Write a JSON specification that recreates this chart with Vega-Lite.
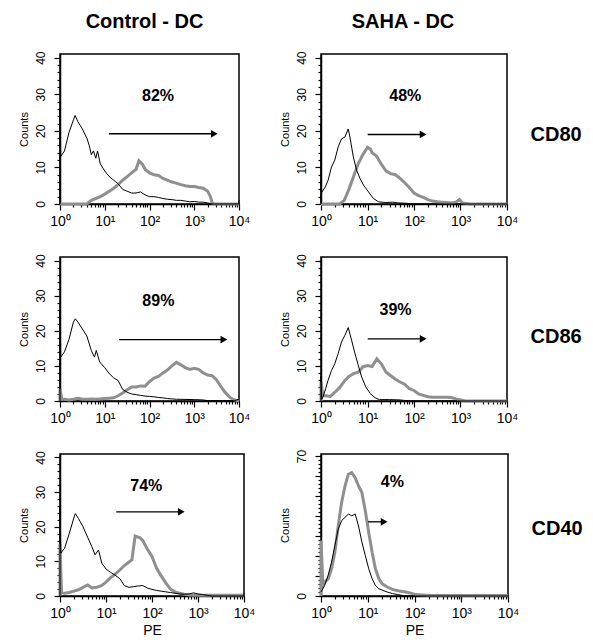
{
"$schema": "https://vega.github.io/schema/vega-lite/v6.json",
"padding": {"left": 17, "top": 11, "right": 5, "bottom": 5},
"datasets": {
"curves": [
{"panel":"c80","stain":"isotype","pe":1,"count":0},{"panel":"c80","stain":"isotype","pe":1,"count":26},{"panel":"c80","stain":"isotype","pe":1.04,"count":13},{"panel":"c80","stain":"isotype","pe":1.259,"count":14.5},{"panel":"c80","stain":"isotype","pe":1.585,"count":19.5},{"panel":"c80","stain":"isotype","pe":1.995,"count":23},{"panel":"c80","stain":"isotype","pe":2.17,"count":24.2},{"panel":"c80","stain":"isotype","pe":2.512,"count":22.5},{"panel":"c80","stain":"isotype","pe":3.162,"count":20.5},{"panel":"c80","stain":"isotype","pe":3.981,"count":18},{"panel":"c80","stain":"isotype","pe":4.5,"count":16},{"panel":"c80","stain":"isotype","pe":5.012,"count":13.5},{"panel":"c80","stain":"isotype","pe":5.6,"count":14.5},{"panel":"c80","stain":"isotype","pe":6.31,"count":12.5},{"panel":"c80","stain":"isotype","pe":6.9,"count":14.5},{"panel":"c80","stain":"isotype","pe":7.943,"count":11},{"panel":"c80","stain":"isotype","pe":10,"count":9},{"panel":"c80","stain":"isotype","pe":12.59,"count":7.5},{"panel":"c80","stain":"isotype","pe":15.85,"count":6.5},{"panel":"c80","stain":"isotype","pe":19.95,"count":5.5},{"panel":"c80","stain":"isotype","pe":25.12,"count":4},{"panel":"c80","stain":"isotype","pe":31.62,"count":3.5},{"panel":"c80","stain":"isotype","pe":39.81,"count":3},{"panel":"c80","stain":"isotype","pe":50.12,"count":3},{"panel":"c80","stain":"isotype","pe":63.1,"count":3.3},{"panel":"c80","stain":"isotype","pe":79.43,"count":2.5},{"panel":"c80","stain":"isotype","pe":100,"count":2},{"panel":"c80","stain":"isotype","pe":125.9,"count":2},{"panel":"c80","stain":"isotype","pe":158.5,"count":1.8},{"panel":"c80","stain":"isotype","pe":199.5,"count":1.5},{"panel":"c80","stain":"isotype","pe":251.2,"count":1.3},{"panel":"c80","stain":"isotype","pe":316.2,"count":1.2},{"panel":"c80","stain":"isotype","pe":398.1,"count":1},{"panel":"c80","stain":"isotype","pe":501.2,"count":1},{"panel":"c80","stain":"isotype","pe":631,"count":0.8},{"panel":"c80","stain":"isotype","pe":794.3,"count":0.6},{"panel":"c80","stain":"isotype","pe":1000,"count":0.7},{"panel":"c80","stain":"isotype","pe":1259,"count":0.5},{"panel":"c80","stain":"isotype","pe":1585,"count":0.5},{"panel":"c80","stain":"isotype","pe":1995,"count":0.3},{"panel":"c80","stain":"isotype","pe":2512,"count":0},{"panel":"c80","stain":"isotype","pe":9800,"count":0},{"panel":"c80","stain":"isotype","pe":10000,"count":1},
{"panel":"c80","stain":"marker","pe":1,"count":0},{"panel":"c80","stain":"marker","pe":3.981,"count":0},{"panel":"c80","stain":"marker","pe":5.012,"count":1},{"panel":"c80","stain":"marker","pe":6.31,"count":1.5},{"panel":"c80","stain":"marker","pe":7.943,"count":2},{"panel":"c80","stain":"marker","pe":10,"count":2.7},{"panel":"c80","stain":"marker","pe":12.59,"count":3.5},{"panel":"c80","stain":"marker","pe":15.85,"count":4.3},{"panel":"c80","stain":"marker","pe":19.95,"count":5.3},{"panel":"c80","stain":"marker","pe":25.12,"count":6.5},{"panel":"c80","stain":"marker","pe":31.62,"count":7.5},{"panel":"c80","stain":"marker","pe":39.81,"count":8.5},{"panel":"c80","stain":"marker","pe":50.12,"count":9.5},{"panel":"c80","stain":"marker","pe":58,"count":11.8},{"panel":"c80","stain":"marker","pe":70,"count":10.8},{"panel":"c80","stain":"marker","pe":79.43,"count":9.5},{"panel":"c80","stain":"marker","pe":100,"count":8.5},{"panel":"c80","stain":"marker","pe":125.9,"count":8},{"panel":"c80","stain":"marker","pe":158.5,"count":7.8},{"panel":"c80","stain":"marker","pe":199.5,"count":7},{"panel":"c80","stain":"marker","pe":251.2,"count":6.5},{"panel":"c80","stain":"marker","pe":316.2,"count":6},{"panel":"c80","stain":"marker","pe":398.1,"count":5.7},{"panel":"c80","stain":"marker","pe":501.2,"count":5.3},{"panel":"c80","stain":"marker","pe":631,"count":5},{"panel":"c80","stain":"marker","pe":794.3,"count":4.8},{"panel":"c80","stain":"marker","pe":1000,"count":4.8},{"panel":"c80","stain":"marker","pe":1259,"count":4.5},{"panel":"c80","stain":"marker","pe":1585,"count":4.3},{"panel":"c80","stain":"marker","pe":1995,"count":3.5},{"panel":"c80","stain":"marker","pe":2300,"count":2},{"panel":"c80","stain":"marker","pe":2512,"count":0.3},{"panel":"c80","stain":"marker","pe":2800,"count":0},{"panel":"c80","stain":"marker","pe":10000,"count":0},
{"panel":"s80","stain":"isotype","pe":1,"count":0},{"panel":"s80","stain":"isotype","pe":1,"count":22},{"panel":"s80","stain":"isotype","pe":1.01,"count":2.9},{"panel":"s80","stain":"isotype","pe":1.24,"count":4.7},{"panel":"s80","stain":"isotype","pe":1.42,"count":6.5},{"panel":"s80","stain":"isotype","pe":1.68,"count":10.1},{"panel":"s80","stain":"isotype","pe":1.98,"count":12},{"panel":"s80","stain":"isotype","pe":2.34,"count":15.6},{"panel":"s80","stain":"isotype","pe":2.76,"count":17.8},{"panel":"s80","stain":"isotype","pe":3.26,"count":18.3},{"panel":"s80","stain":"isotype","pe":3.85,"count":20.5},{"panel":"s80","stain":"isotype","pe":4.19,"count":18.3},{"panel":"s80","stain":"isotype","pe":4.95,"count":12.9},{"panel":"s80","stain":"isotype","pe":5.84,"count":9.2},{"panel":"s80","stain":"isotype","pe":6.9,"count":7},{"panel":"s80","stain":"isotype","pe":8.15,"count":5.2},{"panel":"s80","stain":"isotype","pe":10.5,"count":3.3},{"panel":"s80","stain":"isotype","pe":13.4,"count":1.5},{"panel":"s80","stain":"isotype","pe":17.3,"count":0.6},{"panel":"s80","stain":"isotype","pe":24,"count":0.4},{"panel":"s80","stain":"isotype","pe":35,"count":0.5},{"panel":"s80","stain":"isotype","pe":45,"count":0.3},{"panel":"s80","stain":"isotype","pe":70,"count":0.2},{"panel":"s80","stain":"isotype","pe":100,"count":0},{"panel":"s80","stain":"isotype","pe":10000,"count":0},
{"panel":"s80","stain":"marker","pe":1,"count":0},{"panel":"s80","stain":"marker","pe":2.512,"count":0},{"panel":"s80","stain":"marker","pe":3.162,"count":1},{"panel":"s80","stain":"marker","pe":3.981,"count":4},{"panel":"s80","stain":"marker","pe":5.012,"count":7.5},{"panel":"s80","stain":"marker","pe":6.31,"count":11},{"panel":"s80","stain":"marker","pe":7.943,"count":13.5},{"panel":"s80","stain":"marker","pe":10,"count":15.5},{"panel":"s80","stain":"marker","pe":11.5,"count":15},{"panel":"s80","stain":"marker","pe":12.59,"count":14},{"panel":"s80","stain":"marker","pe":15.85,"count":13},{"panel":"s80","stain":"marker","pe":19.95,"count":10.8},{"panel":"s80","stain":"marker","pe":25.12,"count":9},{"panel":"s80","stain":"marker","pe":31.62,"count":8.3},{"panel":"s80","stain":"marker","pe":39.81,"count":8},{"panel":"s80","stain":"marker","pe":50.12,"count":7},{"panel":"s80","stain":"marker","pe":63.1,"count":5.8},{"panel":"s80","stain":"marker","pe":79.43,"count":4.5},{"panel":"s80","stain":"marker","pe":100,"count":3},{"panel":"s80","stain":"marker","pe":125.9,"count":2.3},{"panel":"s80","stain":"marker","pe":158.5,"count":1.8},{"panel":"s80","stain":"marker","pe":199.5,"count":1.2},{"panel":"s80","stain":"marker","pe":251.2,"count":0.8},{"panel":"s80","stain":"marker","pe":316.2,"count":0.6},{"panel":"s80","stain":"marker","pe":398.1,"count":0.5},{"panel":"s80","stain":"marker","pe":501.2,"count":0.4},{"panel":"s80","stain":"marker","pe":631,"count":0.3},{"panel":"s80","stain":"marker","pe":794.3,"count":0.5},{"panel":"s80","stain":"marker","pe":950,"count":1.2},{"panel":"s80","stain":"marker","pe":1100,"count":0.3},{"panel":"s80","stain":"marker","pe":1585,"count":0},{"panel":"s80","stain":"marker","pe":10000,"count":0},
{"panel":"c86","stain":"isotype","pe":1,"count":0},{"panel":"c86","stain":"isotype","pe":1,"count":25.8},{"panel":"c86","stain":"isotype","pe":1.04,"count":12.5},{"panel":"c86","stain":"isotype","pe":1.259,"count":14},{"panel":"c86","stain":"isotype","pe":1.585,"count":17.5},{"panel":"c86","stain":"isotype","pe":1.995,"count":22.5},{"panel":"c86","stain":"isotype","pe":2.2,"count":23.4},{"panel":"c86","stain":"isotype","pe":2.512,"count":22.5},{"panel":"c86","stain":"isotype","pe":3.162,"count":20.5},{"panel":"c86","stain":"isotype","pe":3.981,"count":18.5},{"panel":"c86","stain":"isotype","pe":5,"count":14.4},{"panel":"c86","stain":"isotype","pe":5.9,"count":12.5},{"panel":"c86","stain":"isotype","pe":6.46,"count":14.4},{"panel":"c86","stain":"isotype","pe":7.7,"count":11.1},{"panel":"c86","stain":"isotype","pe":10,"count":9.5},{"panel":"c86","stain":"isotype","pe":12.59,"count":7.8},{"panel":"c86","stain":"isotype","pe":15.85,"count":6.6},{"panel":"c86","stain":"isotype","pe":19.95,"count":5.8},{"panel":"c86","stain":"isotype","pe":25.12,"count":3.3},{"panel":"c86","stain":"isotype","pe":31.62,"count":2.5},{"panel":"c86","stain":"isotype","pe":39.81,"count":2},{"panel":"c86","stain":"isotype","pe":50.12,"count":1.8},{"panel":"c86","stain":"isotype","pe":63.1,"count":1.6},{"panel":"c86","stain":"isotype","pe":79.43,"count":1.4},{"panel":"c86","stain":"isotype","pe":100,"count":1.3},{"panel":"c86","stain":"isotype","pe":125.9,"count":1.2},{"panel":"c86","stain":"isotype","pe":158.5,"count":1},{"panel":"c86","stain":"isotype","pe":199.5,"count":0.9},{"panel":"c86","stain":"isotype","pe":251.2,"count":0.7},{"panel":"c86","stain":"isotype","pe":316.2,"count":0.6},{"panel":"c86","stain":"isotype","pe":398.1,"count":0.5},{"panel":"c86","stain":"isotype","pe":1000,"count":0.4},{"panel":"c86","stain":"isotype","pe":1585,"count":0.3},{"panel":"c86","stain":"isotype","pe":1995,"count":0.1},{"panel":"c86","stain":"isotype","pe":7943,"count":0.1},{"panel":"c86","stain":"isotype","pe":10000,"count":0.5},
{"panel":"c86","stain":"marker","pe":1,"count":0},{"panel":"c86","stain":"marker","pe":1,"count":3.5},{"panel":"c86","stain":"marker","pe":1.1,"count":0.5},{"panel":"c86","stain":"marker","pe":1.259,"count":0.5},{"panel":"c86","stain":"marker","pe":1.585,"count":0.3},{"panel":"c86","stain":"marker","pe":1.995,"count":0.5},{"panel":"c86","stain":"marker","pe":2.512,"count":0.8},{"panel":"c86","stain":"marker","pe":3.162,"count":0.5},{"panel":"c86","stain":"marker","pe":3.981,"count":0.5},{"panel":"c86","stain":"marker","pe":5.012,"count":0.6},{"panel":"c86","stain":"marker","pe":6.31,"count":0.5},{"panel":"c86","stain":"marker","pe":7.943,"count":0.6},{"panel":"c86","stain":"marker","pe":10,"count":0.7},{"panel":"c86","stain":"marker","pe":12.59,"count":0.8},{"panel":"c86","stain":"marker","pe":15.85,"count":0.9},{"panel":"c86","stain":"marker","pe":19.95,"count":1.5},{"panel":"c86","stain":"marker","pe":25.12,"count":2.3},{"panel":"c86","stain":"marker","pe":31.62,"count":3.2},{"panel":"c86","stain":"marker","pe":39.81,"count":4},{"panel":"c86","stain":"marker","pe":50.12,"count":4},{"panel":"c86","stain":"marker","pe":63.1,"count":4.3},{"panel":"c86","stain":"marker","pe":79.43,"count":4.2},{"panel":"c86","stain":"marker","pe":100,"count":5.5},{"panel":"c86","stain":"marker","pe":125.9,"count":6.5},{"panel":"c86","stain":"marker","pe":158.5,"count":7},{"panel":"c86","stain":"marker","pe":199.5,"count":8},{"panel":"c86","stain":"marker","pe":251.2,"count":8.8},{"panel":"c86","stain":"marker","pe":316.2,"count":10},{"panel":"c86","stain":"marker","pe":398.1,"count":11},{"panel":"c86","stain":"marker","pe":501.2,"count":10.3},{"panel":"c86","stain":"marker","pe":631,"count":9.5},{"panel":"c86","stain":"marker","pe":794.3,"count":9},{"panel":"c86","stain":"marker","pe":1000,"count":9.3},{"panel":"c86","stain":"marker","pe":1259,"count":9},{"panel":"c86","stain":"marker","pe":1585,"count":8},{"panel":"c86","stain":"marker","pe":1995,"count":7.4},{"panel":"c86","stain":"marker","pe":2512,"count":7.2},{"panel":"c86","stain":"marker","pe":3162,"count":6},{"panel":"c86","stain":"marker","pe":3981,"count":4},{"panel":"c86","stain":"marker","pe":5012,"count":2.3},{"panel":"c86","stain":"marker","pe":6310,"count":1},{"panel":"c86","stain":"marker","pe":7943,"count":0.3},{"panel":"c86","stain":"marker","pe":10000,"count":0},
{"panel":"s86","stain":"isotype","pe":1,"count":0},{"panel":"s86","stain":"isotype","pe":1,"count":7},{"panel":"s86","stain":"isotype","pe":1.03,"count":0.5},{"panel":"s86","stain":"isotype","pe":1.1,"count":1.1},{"panel":"s86","stain":"isotype","pe":1.259,"count":3.5},{"panel":"s86","stain":"isotype","pe":1.42,"count":5.9},{"panel":"s86","stain":"isotype","pe":1.68,"count":8.7},{"panel":"s86","stain":"isotype","pe":1.98,"count":10.6},{"panel":"s86","stain":"isotype","pe":2.34,"count":13.5},{"panel":"s86","stain":"isotype","pe":2.76,"count":16.8},{"panel":"s86","stain":"isotype","pe":3.26,"count":18.7},{"panel":"s86","stain":"isotype","pe":3.85,"count":20.9},{"panel":"s86","stain":"isotype","pe":4.55,"count":17.3},{"panel":"s86","stain":"isotype","pe":5.38,"count":13.5},{"panel":"s86","stain":"isotype","pe":6.35,"count":10.1},{"panel":"s86","stain":"isotype","pe":7.5,"count":6.8},{"panel":"s86","stain":"isotype","pe":9.2,"count":4},{"panel":"s86","stain":"isotype","pe":11.5,"count":2.1},{"panel":"s86","stain":"isotype","pe":14.6,"count":0.9},{"panel":"s86","stain":"isotype","pe":18,"count":0.4},{"panel":"s86","stain":"isotype","pe":30,"count":0.4},{"panel":"s86","stain":"isotype","pe":50,"count":0.3},{"panel":"s86","stain":"isotype","pe":70,"count":0.1},{"panel":"s86","stain":"isotype","pe":90,"count":0},{"panel":"s86","stain":"isotype","pe":10000,"count":0},
{"panel":"s86","stain":"marker","pe":1,"count":0},{"panel":"s86","stain":"marker","pe":1,"count":5.4},{"panel":"s86","stain":"marker","pe":1.1,"count":1.5},{"panel":"s86","stain":"marker","pe":1.259,"count":1.5},{"panel":"s86","stain":"marker","pe":1.585,"count":1.3},{"panel":"s86","stain":"marker","pe":1.995,"count":2.5},{"panel":"s86","stain":"marker","pe":2.512,"count":3.8},{"panel":"s86","stain":"marker","pe":3.162,"count":5.6},{"panel":"s86","stain":"marker","pe":3.981,"count":7},{"panel":"s86","stain":"marker","pe":5.012,"count":7.8},{"panel":"s86","stain":"marker","pe":6.31,"count":8.2},{"panel":"s86","stain":"marker","pe":7.943,"count":9.7},{"panel":"s86","stain":"marker","pe":10,"count":10.1},{"panel":"s86","stain":"marker","pe":12.59,"count":9.8},{"panel":"s86","stain":"marker","pe":15.85,"count":12},{"panel":"s86","stain":"marker","pe":19.95,"count":10.5},{"panel":"s86","stain":"marker","pe":25.12,"count":8.2},{"panel":"s86","stain":"marker","pe":31.62,"count":7.2},{"panel":"s86","stain":"marker","pe":39.81,"count":6.2},{"panel":"s86","stain":"marker","pe":50.12,"count":5.4},{"panel":"s86","stain":"marker","pe":63.1,"count":4.8},{"panel":"s86","stain":"marker","pe":79.43,"count":3.5},{"panel":"s86","stain":"marker","pe":100,"count":3},{"panel":"s86","stain":"marker","pe":125.9,"count":2},{"panel":"s86","stain":"marker","pe":158.5,"count":1.6},{"panel":"s86","stain":"marker","pe":199.5,"count":1.2},{"panel":"s86","stain":"marker","pe":251.2,"count":1.1},{"panel":"s86","stain":"marker","pe":316.2,"count":1.1},{"panel":"s86","stain":"marker","pe":398.1,"count":1.1},{"panel":"s86","stain":"marker","pe":501.2,"count":1.1},{"panel":"s86","stain":"marker","pe":631,"count":1},{"panel":"s86","stain":"marker","pe":794.3,"count":0.6},{"panel":"s86","stain":"marker","pe":1000,"count":0.3},{"panel":"s86","stain":"marker","pe":1259,"count":0},{"panel":"s86","stain":"marker","pe":10000,"count":0},
{"panel":"c40","stain":"isotype","pe":1,"count":0},{"panel":"c40","stain":"isotype","pe":1,"count":25.9},{"panel":"c40","stain":"isotype","pe":1.04,"count":12.4},{"panel":"c40","stain":"isotype","pe":1.259,"count":13.8},{"panel":"c40","stain":"isotype","pe":1.585,"count":18},{"panel":"c40","stain":"isotype","pe":1.995,"count":22.5},{"panel":"c40","stain":"isotype","pe":2.15,"count":23.8},{"panel":"c40","stain":"isotype","pe":2.512,"count":22.4},{"panel":"c40","stain":"isotype","pe":3.162,"count":20},{"panel":"c40","stain":"isotype","pe":3.981,"count":17},{"panel":"c40","stain":"isotype","pe":4.9,"count":14.3},{"panel":"c40","stain":"isotype","pe":5.8,"count":11.9},{"panel":"c40","stain":"isotype","pe":6.86,"count":13.3},{"panel":"c40","stain":"isotype","pe":8.1,"count":9.5},{"panel":"c40","stain":"isotype","pe":10,"count":7.8},{"panel":"c40","stain":"isotype","pe":12.59,"count":6.8},{"panel":"c40","stain":"isotype","pe":15.85,"count":6},{"panel":"c40","stain":"isotype","pe":19.95,"count":5},{"panel":"c40","stain":"isotype","pe":25.12,"count":3},{"panel":"c40","stain":"isotype","pe":31.62,"count":2.5},{"panel":"c40","stain":"isotype","pe":39.81,"count":2.7},{"panel":"c40","stain":"isotype","pe":50.12,"count":2.9},{"panel":"c40","stain":"isotype","pe":63.1,"count":3},{"panel":"c40","stain":"isotype","pe":79.43,"count":2.3},{"panel":"c40","stain":"isotype","pe":100,"count":1.9},{"panel":"c40","stain":"isotype","pe":125.9,"count":1.6},{"panel":"c40","stain":"isotype","pe":158.5,"count":1.4},{"panel":"c40","stain":"isotype","pe":199.5,"count":1.2},{"panel":"c40","stain":"isotype","pe":251.2,"count":1},{"panel":"c40","stain":"isotype","pe":316.2,"count":0.8},{"panel":"c40","stain":"isotype","pe":398.1,"count":0.6},{"panel":"c40","stain":"isotype","pe":501.2,"count":0.5},{"panel":"c40","stain":"isotype","pe":631,"count":0.6},{"panel":"c40","stain":"isotype","pe":794.3,"count":0.9},{"panel":"c40","stain":"isotype","pe":1000,"count":0.6},{"panel":"c40","stain":"isotype","pe":1259,"count":0.4},{"panel":"c40","stain":"isotype","pe":1585,"count":0.2},{"panel":"c40","stain":"isotype","pe":1995,"count":0},{"panel":"c40","stain":"isotype","pe":9800,"count":0},{"panel":"c40","stain":"isotype","pe":10000,"count":0.8},
{"panel":"c40","stain":"marker","pe":1,"count":0},{"panel":"c40","stain":"marker","pe":1,"count":15},{"panel":"c40","stain":"marker","pe":1.08,"count":1},{"panel":"c40","stain":"marker","pe":1.259,"count":0.8},{"panel":"c40","stain":"marker","pe":1.585,"count":1},{"panel":"c40","stain":"marker","pe":1.995,"count":1.4},{"panel":"c40","stain":"marker","pe":2.512,"count":1.8},{"panel":"c40","stain":"marker","pe":3.162,"count":2.5},{"panel":"c40","stain":"marker","pe":3.981,"count":3.2},{"panel":"c40","stain":"marker","pe":5.012,"count":2.3},{"panel":"c40","stain":"marker","pe":6.31,"count":2.5},{"panel":"c40","stain":"marker","pe":7.943,"count":3},{"panel":"c40","stain":"marker","pe":10,"count":4},{"panel":"c40","stain":"marker","pe":12.59,"count":5.3},{"panel":"c40","stain":"marker","pe":15.85,"count":6.3},{"panel":"c40","stain":"marker","pe":19.95,"count":7.5},{"panel":"c40","stain":"marker","pe":25.12,"count":8.8},{"panel":"c40","stain":"marker","pe":31.62,"count":9.8},{"panel":"c40","stain":"marker","pe":36.6,"count":10.5},{"panel":"c40","stain":"marker","pe":43,"count":17.3},{"panel":"c40","stain":"marker","pe":55,"count":16.8},{"panel":"c40","stain":"marker","pe":63.1,"count":16},{"panel":"c40","stain":"marker","pe":79.43,"count":13.5},{"panel":"c40","stain":"marker","pe":100,"count":11.4},{"panel":"c40","stain":"marker","pe":125.9,"count":8},{"panel":"c40","stain":"marker","pe":158.5,"count":5.8},{"panel":"c40","stain":"marker","pe":199.5,"count":3.8},{"panel":"c40","stain":"marker","pe":251.2,"count":2},{"panel":"c40","stain":"marker","pe":316.2,"count":1.2},{"panel":"c40","stain":"marker","pe":398.1,"count":0.8},{"panel":"c40","stain":"marker","pe":501.2,"count":0.5},{"panel":"c40","stain":"marker","pe":631,"count":0.3},{"panel":"c40","stain":"marker","pe":794.3,"count":0.2},{"panel":"c40","stain":"marker","pe":10000,"count":0.2},
{"panel":"s40","stain":"isotype","pe":1,"count":2},{"panel":"s40","stain":"isotype","pe":1.2,"count":5.3},{"panel":"s40","stain":"isotype","pe":1.42,"count":10.3},{"panel":"s40","stain":"isotype","pe":1.68,"count":16.9},{"panel":"s40","stain":"isotype","pe":1.98,"count":25.2},{"panel":"s40","stain":"isotype","pe":2.34,"count":33.5},{"panel":"s40","stain":"isotype","pe":2.76,"count":37.6},{"panel":"s40","stain":"isotype","pe":3.26,"count":39.3},{"panel":"s40","stain":"isotype","pe":3.85,"count":41},{"panel":"s40","stain":"isotype","pe":4.55,"count":40.1},{"panel":"s40","stain":"isotype","pe":5.38,"count":41},{"panel":"s40","stain":"isotype","pe":6.35,"count":35},{"panel":"s40","stain":"isotype","pe":7.5,"count":26.9},{"panel":"s40","stain":"isotype","pe":8.87,"count":20.2},{"panel":"s40","stain":"isotype","pe":10.5,"count":13.6},{"panel":"s40","stain":"isotype","pe":12.4,"count":8.6},{"panel":"s40","stain":"isotype","pe":14.6,"count":5.3},{"panel":"s40","stain":"isotype","pe":17.3,"count":3.6},{"panel":"s40","stain":"isotype","pe":21,"count":2.8},{"panel":"s40","stain":"isotype","pe":26,"count":2},{"panel":"s40","stain":"isotype","pe":34,"count":1.2},{"panel":"s40","stain":"isotype","pe":44,"count":0.7},{"panel":"s40","stain":"isotype","pe":55,"count":0.3},{"panel":"s40","stain":"isotype","pe":70,"count":0},{"panel":"s40","stain":"isotype","pe":10000,"count":0},
{"panel":"s40","stain":"marker","pe":1,"count":0},{"panel":"s40","stain":"marker","pe":1,"count":27.7},{"panel":"s40","stain":"marker","pe":1.1,"count":5.3},{"panel":"s40","stain":"marker","pe":1.2,"count":7},{"panel":"s40","stain":"marker","pe":1.42,"count":8.6},{"panel":"s40","stain":"marker","pe":1.68,"count":13.6},{"panel":"s40","stain":"marker","pe":1.98,"count":21.9},{"panel":"s40","stain":"marker","pe":2.34,"count":35.2},{"panel":"s40","stain":"marker","pe":2.76,"count":46.8},{"panel":"s40","stain":"marker","pe":3.26,"count":55},{"panel":"s40","stain":"marker","pe":3.85,"count":60.9},{"panel":"s40","stain":"marker","pe":4.55,"count":61.7},{"panel":"s40","stain":"marker","pe":5.38,"count":59.2},{"panel":"s40","stain":"marker","pe":6.35,"count":55},{"panel":"s40","stain":"marker","pe":7.5,"count":51.7},{"panel":"s40","stain":"marker","pe":8.87,"count":42.6},{"panel":"s40","stain":"marker","pe":10.5,"count":31.8},{"panel":"s40","stain":"marker","pe":12.4,"count":21.9},{"panel":"s40","stain":"marker","pe":14.6,"count":13.6},{"panel":"s40","stain":"marker","pe":17.3,"count":8.6},{"panel":"s40","stain":"marker","pe":20.4,"count":6.1},{"panel":"s40","stain":"marker","pe":26.1,"count":4.5},{"panel":"s40","stain":"marker","pe":33.6,"count":3.3},{"panel":"s40","stain":"marker","pe":46.9,"count":2.5},{"panel":"s40","stain":"marker","pe":65.5,"count":2},{"panel":"s40","stain":"marker","pe":91.4,"count":1.2},{"panel":"s40","stain":"marker","pe":108,"count":0.7},{"panel":"s40","stain":"marker","pe":206,"count":0.3},{"panel":"s40","stain":"marker","pe":10000,"count":0.3}
],
"notes": [
{"panel":"c80","kind":"label","pe":155,"count":29.6,"pct":"82%"},{"panel":"c80","kind":"arrow","pe":12.4,"peEnd":2800,"count":19.2},{"panel":"c80","kind":"head","pe":2800,"count":19.2},
{"panel":"s80","kind":"label","pe":65,"count":29.6,"pct":"48%"},{"panel":"s80","kind":"arrow","pe":10.1,"peEnd":157,"count":19},{"panel":"s80","kind":"head","pe":157,"count":19},
{"panel":"c86","kind":"label","pe":158,"count":28.6,"pct":"89%"},{"panel":"c86","kind":"arrow","pe":21,"peEnd":4600,"count":17.5},{"panel":"c86","kind":"head","pe":4600,"count":17.5},
{"panel":"s86","kind":"label","pe":40,"count":25.8,"pct":"39%"},{"panel":"s86","kind":"arrow","pe":10.1,"peEnd":157,"count":17.7},{"panel":"s86","kind":"head","pe":157,"count":17.7},
{"panel":"c40","kind":"label","pe":75,"count":31.9,"pct":"74%"},{"panel":"c40","kind":"arrow","pe":16.7,"peEnd":433,"count":24.3},{"panel":"c40","kind":"head","pe":433,"count":24.3},
{"panel":"s40","kind":"label","pe":33.6,"count":57,"pct":"4%"},{"panel":"s40","kind":"arrow","pe":10.1,"peEnd":22.4,"count":37.1},{"panel":"s40","kind":"head","pe":22.4,"count":37.1}
]
},
"columns": 2,
"spacing": {"row": 53, "column": 77},
"bounds": "flush",
"align": "each",
"concat": [
{
"width": 179, "height": 150,
"title": {"text": "Control - DC", "dx": -5, "offset": 19},
"encoding": {
"x": {"field": "pe", "type": "quantitative", "scale": {"type": "log", "domain": [1, 10000], "nice": false}, "axis": null},
"y": {"field": "count", "type": "quantitative", "scale": {"domain": [0, 41], "nice": false}, "axis": null}
},
"resolve": {"axis": {"x": "independent", "y": "independent"}},
"layer": [
{"data": {"name": "curves"}, "transform": [{"filter": "datum.panel == 'c80' && datum.stain == 'marker'"}], "mark": {"type": "line", "color": "#8f8f8f", "strokeWidth": 3}, "encoding": {"order": {"value": null},
"x": {"field": "pe", "type": "quantitative", "scale": {"type": "log", "domain": [1, 10000], "nice": false}, "axis": {"orient": "bottom", "title": null, "values": [1,10,100,1000,10000], "labelExpr": "datum.value == 1 ? '10⁰' : datum.value == 10 ? '10¹' : datum.value == 100 ? '10²' : datum.value == 1000 ? '10³' : '10⁴'", "tickSize": 6}},
"y": {"field": "count", "type": "quantitative", "scale": {"domain": [0, 41], "nice": false}, "axis": {"orient": "left", "title": "Counts", "values": [0,10,20,30,40], "labelAngle": -90, "tickSize": 6}}}},
{"data": {"name": "curves"}, "transform": [{"filter": "datum.panel == 'c80' && datum.stain == 'isotype'"}], "mark": {"type": "line", "color": "black", "strokeWidth": 1}, "encoding": {"order": {"value": null},
"x": {"field": "pe", "type": "quantitative", "scale": {"type": "log", "domain": [1, 10000], "nice": false}, "axis": {"orient": "bottom", "title": null, "values": [2,3,4,5,6,7,8,9,20,30,40,50,60,70,80,90,200,300,400,500,600,700,800,900,2000,3000,4000,5000,6000,7000,8000,9000], "labels": false, "domain": false, "tickSize": 3}},
"y": {"field": "count", "type": "quantitative", "scale": {"domain": [0, 41], "nice": false}, "axis": {"orient": "left", "title": null, "values": [2,4,6,8,12,14,16,18,22,24,26,28,32,34,36,38], "labels": false, "domain": false, "tickSize": 3}}}},
{"data": {"name": "notes"}, "transform": [{"filter": "datum.panel == 'c80' && datum.kind == 'arrow'"}], "mark": {"type": "rule", "color": "black", "strokeWidth": 1.3}, "encoding": {"x2": {"field": "peEnd"}}},
{"data": {"name": "notes"}, "transform": [{"filter": "datum.panel == 'c80' && datum.kind == 'head'"}], "mark": {"type": "point", "shape": "triangle-right", "filled": true, "color": "black", "opacity": 1, "size": 60}},
{"data": {"name": "notes"}, "transform": [{"filter": "datum.panel == 'c80' && datum.kind == 'label'"}], "mark": {"type": "text", "fontSize": 16, "fontWeight": "bold", "color": "black"}, "encoding": {"text": {"field": "pct"}}}
]
},
{
"width": 186, "height": 150,
"title": {"text": "SAHA - DC", "dx": -11, "offset": 19},
"encoding": {
"x": {"field": "pe", "type": "quantitative", "scale": {"type": "log", "domain": [1, 10000], "nice": false}, "axis": null},
"y": {"field": "count", "type": "quantitative", "scale": {"domain": [0, 41], "nice": false}, "axis": null}
},
"resolve": {"axis": {"x": "independent", "y": "independent"}},
"layer": [
{"data": {"name": "curves"}, "transform": [{"filter": "datum.panel == 's80' && datum.stain == 'marker'"}], "mark": {"type": "line", "color": "#8f8f8f", "strokeWidth": 3}, "encoding": {"order": {"value": null},
"x": {"field": "pe", "type": "quantitative", "scale": {"type": "log", "domain": [1, 10000], "nice": false}, "axis": {"orient": "bottom", "title": null, "values": [1,10,100,1000,10000], "labelExpr": "datum.value == 1 ? '10⁰' : datum.value == 10 ? '10¹' : datum.value == 100 ? '10²' : datum.value == 1000 ? '10³' : '10⁴'", "tickSize": 6}},
"y": {"field": "count", "type": "quantitative", "scale": {"domain": [0, 41], "nice": false}, "axis": {"orient": "left", "title": "Counts", "values": [0,10,20,30,40], "labelAngle": -90, "tickSize": 6}}}},
{"data": {"name": "curves"}, "transform": [{"filter": "datum.panel == 's80' && datum.stain == 'isotype'"}], "mark": {"type": "line", "color": "black", "strokeWidth": 1}, "encoding": {"order": {"value": null},
"x": {"field": "pe", "type": "quantitative", "scale": {"type": "log", "domain": [1, 10000], "nice": false}, "axis": {"orient": "bottom", "title": null, "values": [2,3,4,5,6,7,8,9,20,30,40,50,60,70,80,90,200,300,400,500,600,700,800,900,2000,3000,4000,5000,6000,7000,8000,9000], "labels": false, "domain": false, "tickSize": 3}},
"y": {"field": "count", "type": "quantitative", "scale": {"domain": [0, 41], "nice": false}, "axis": {"orient": "left", "title": null, "values": [2,4,6,8,12,14,16,18,22,24,26,28,32,34,36,38], "labels": false, "domain": false, "tickSize": 3}}}},
{"data": {"name": "notes"}, "transform": [{"filter": "datum.panel == 's80' && datum.kind == 'arrow'"}], "mark": {"type": "rule", "color": "black", "strokeWidth": 1.3}, "encoding": {"x2": {"field": "peEnd"}}},
{"data": {"name": "notes"}, "transform": [{"filter": "datum.panel == 's80' && datum.kind == 'head'"}], "mark": {"type": "point", "shape": "triangle-right", "filled": true, "color": "black", "opacity": 1, "size": 60}},
{"data": {"name": "notes"}, "transform": [{"filter": "datum.panel == 's80' && datum.kind == 'label'"}], "mark": {"type": "text", "fontSize": 16, "fontWeight": "bold", "color": "black"}, "encoding": {"text": {"field": "pct"}, "y": {"field": "count", "type": "quantitative", "scale": {"domain": [0, 41], "nice": false}, "axis": {"orient": "right", "title": "CD80", "titleAngle": 0, "titleAlign": "left", "titleBaseline": "middle", "titleFontSize": 20, "titleFontWeight": "bold", "titlePadding": 23, "titleY": 80, "domain": false, "ticks": false, "labels": false}}}}
]
},
{
"width": 179, "height": 144,
"encoding": {
"x": {"field": "pe", "type": "quantitative", "scale": {"type": "log", "domain": [1, 10000], "nice": false}, "axis": null},
"y": {"field": "count", "type": "quantitative", "scale": {"domain": [0, 41], "nice": false}, "axis": null}
},
"resolve": {"axis": {"x": "independent", "y": "independent"}},
"layer": [
{"data": {"name": "curves"}, "transform": [{"filter": "datum.panel == 'c86' && datum.stain == 'marker'"}], "mark": {"type": "line", "color": "#8f8f8f", "strokeWidth": 3}, "encoding": {"order": {"value": null},
"x": {"field": "pe", "type": "quantitative", "scale": {"type": "log", "domain": [1, 10000], "nice": false}, "axis": {"orient": "bottom", "title": null, "values": [1,10,100,1000,10000], "labelExpr": "datum.value == 1 ? '10⁰' : datum.value == 10 ? '10¹' : datum.value == 100 ? '10²' : datum.value == 1000 ? '10³' : '10⁴'", "tickSize": 6}},
"y": {"field": "count", "type": "quantitative", "scale": {"domain": [0, 41], "nice": false}, "axis": {"orient": "left", "title": "Counts", "values": [0,10,20,30,40], "labelAngle": -90, "tickSize": 6}}}},
{"data": {"name": "curves"}, "transform": [{"filter": "datum.panel == 'c86' && datum.stain == 'isotype'"}], "mark": {"type": "line", "color": "black", "strokeWidth": 1}, "encoding": {"order": {"value": null},
"x": {"field": "pe", "type": "quantitative", "scale": {"type": "log", "domain": [1, 10000], "nice": false}, "axis": {"orient": "bottom", "title": null, "values": [2,3,4,5,6,7,8,9,20,30,40,50,60,70,80,90,200,300,400,500,600,700,800,900,2000,3000,4000,5000,6000,7000,8000,9000], "labels": false, "domain": false, "tickSize": 3}},
"y": {"field": "count", "type": "quantitative", "scale": {"domain": [0, 41], "nice": false}, "axis": {"orient": "left", "title": null, "values": [2,4,6,8,12,14,16,18,22,24,26,28,32,34,36,38], "labels": false, "domain": false, "tickSize": 3}}}},
{"data": {"name": "notes"}, "transform": [{"filter": "datum.panel == 'c86' && datum.kind == 'arrow'"}], "mark": {"type": "rule", "color": "black", "strokeWidth": 1.3}, "encoding": {"x2": {"field": "peEnd"}}},
{"data": {"name": "notes"}, "transform": [{"filter": "datum.panel == 'c86' && datum.kind == 'head'"}], "mark": {"type": "point", "shape": "triangle-right", "filled": true, "color": "black", "opacity": 1, "size": 60}},
{"data": {"name": "notes"}, "transform": [{"filter": "datum.panel == 'c86' && datum.kind == 'label'"}], "mark": {"type": "text", "fontSize": 16, "fontWeight": "bold", "color": "black"}, "encoding": {"text": {"field": "pct"}}}
]
},
{
"width": 186, "height": 144,
"encoding": {
"x": {"field": "pe", "type": "quantitative", "scale": {"type": "log", "domain": [1, 10000], "nice": false}, "axis": null},
"y": {"field": "count", "type": "quantitative", "scale": {"domain": [0, 41], "nice": false}, "axis": null}
},
"resolve": {"axis": {"x": "independent", "y": "independent"}},
"layer": [
{"data": {"name": "curves"}, "transform": [{"filter": "datum.panel == 's86' && datum.stain == 'marker'"}], "mark": {"type": "line", "color": "#8f8f8f", "strokeWidth": 3}, "encoding": {"order": {"value": null},
"x": {"field": "pe", "type": "quantitative", "scale": {"type": "log", "domain": [1, 10000], "nice": false}, "axis": {"orient": "bottom", "title": null, "values": [1,10,100,1000,10000], "labelExpr": "datum.value == 1 ? '10⁰' : datum.value == 10 ? '10¹' : datum.value == 100 ? '10²' : datum.value == 1000 ? '10³' : '10⁴'", "tickSize": 6}},
"y": {"field": "count", "type": "quantitative", "scale": {"domain": [0, 41], "nice": false}, "axis": {"orient": "left", "title": "Counts", "values": [0,10,20,30,40], "labelAngle": -90, "tickSize": 6}}}},
{"data": {"name": "curves"}, "transform": [{"filter": "datum.panel == 's86' && datum.stain == 'isotype'"}], "mark": {"type": "line", "color": "black", "strokeWidth": 1}, "encoding": {"order": {"value": null},
"x": {"field": "pe", "type": "quantitative", "scale": {"type": "log", "domain": [1, 10000], "nice": false}, "axis": {"orient": "bottom", "title": null, "values": [2,3,4,5,6,7,8,9,20,30,40,50,60,70,80,90,200,300,400,500,600,700,800,900,2000,3000,4000,5000,6000,7000,8000,9000], "labels": false, "domain": false, "tickSize": 3}},
"y": {"field": "count", "type": "quantitative", "scale": {"domain": [0, 41], "nice": false}, "axis": {"orient": "left", "title": null, "values": [2,4,6,8,12,14,16,18,22,24,26,28,32,34,36,38], "labels": false, "domain": false, "tickSize": 3}}}},
{"data": {"name": "notes"}, "transform": [{"filter": "datum.panel == 's86' && datum.kind == 'arrow'"}], "mark": {"type": "rule", "color": "black", "strokeWidth": 1.3}, "encoding": {"x2": {"field": "peEnd"}}},
{"data": {"name": "notes"}, "transform": [{"filter": "datum.panel == 's86' && datum.kind == 'head'"}], "mark": {"type": "point", "shape": "triangle-right", "filled": true, "color": "black", "opacity": 1, "size": 60}},
{"data": {"name": "notes"}, "transform": [{"filter": "datum.panel == 's86' && datum.kind == 'label'"}], "mark": {"type": "text", "fontSize": 16, "fontWeight": "bold", "color": "black"}, "encoding": {"text": {"field": "pct"}, "y": {"field": "count", "type": "quantitative", "scale": {"domain": [0, 41], "nice": false}, "axis": {"orient": "right", "title": "CD86", "titleAngle": 0, "titleAlign": "left", "titleBaseline": "middle", "titleFontSize": 20, "titleFontWeight": "bold", "titlePadding": 23, "titleY": 79, "domain": false, "ticks": false, "labels": false}}}}
]
},
{
"width": 184, "height": 142,
"encoding": {
"x": {"field": "pe", "type": "quantitative", "scale": {"type": "log", "domain": [1, 10000], "nice": false}, "axis": null},
"y": {"field": "count", "type": "quantitative", "scale": {"domain": [0, 41], "nice": false}, "axis": null}
},
"resolve": {"axis": {"x": "independent", "y": "independent"}},
"layer": [
{"data": {"name": "curves"}, "transform": [{"filter": "datum.panel == 'c40' && datum.stain == 'marker'"}], "mark": {"type": "line", "color": "#8f8f8f", "strokeWidth": 3}, "encoding": {"order": {"value": null},
"x": {"field": "pe", "type": "quantitative", "scale": {"type": "log", "domain": [1, 10000], "nice": false}, "axis": {"orient": "bottom", "title": "PE", "values": [1,10,100,1000,10000], "labelExpr": "datum.value == 1 ? '10⁰' : datum.value == 10 ? '10¹' : datum.value == 100 ? '10²' : datum.value == 1000 ? '10³' : '10⁴'", "tickSize": 6}},
"y": {"field": "count", "type": "quantitative", "scale": {"domain": [0, 41], "nice": false}, "axis": {"orient": "left", "title": "Counts", "values": [0,10,20,30,40], "labelAngle": -90, "tickSize": 6}}}},
{"data": {"name": "curves"}, "transform": [{"filter": "datum.panel == 'c40' && datum.stain == 'isotype'"}], "mark": {"type": "line", "color": "black", "strokeWidth": 1}, "encoding": {"order": {"value": null},
"x": {"field": "pe", "type": "quantitative", "scale": {"type": "log", "domain": [1, 10000], "nice": false}, "axis": {"orient": "bottom", "title": null, "values": [2,3,4,5,6,7,8,9,20,30,40,50,60,70,80,90,200,300,400,500,600,700,800,900,2000,3000,4000,5000,6000,7000,8000,9000], "labels": false, "domain": false, "tickSize": 3}},
"y": {"field": "count", "type": "quantitative", "scale": {"domain": [0, 41], "nice": false}, "axis": {"orient": "left", "title": null, "values": [2,4,6,8,12,14,16,18,22,24,26,28,32,34,36,38], "labels": false, "domain": false, "tickSize": 3}}}},
{"data": {"name": "notes"}, "transform": [{"filter": "datum.panel == 'c40' && datum.kind == 'arrow'"}], "mark": {"type": "rule", "color": "black", "strokeWidth": 1.3}, "encoding": {"x2": {"field": "peEnd"}}},
{"data": {"name": "notes"}, "transform": [{"filter": "datum.panel == 'c40' && datum.kind == 'head'"}], "mark": {"type": "point", "shape": "triangle-right", "filled": true, "color": "black", "opacity": 1, "size": 60}},
{"data": {"name": "notes"}, "transform": [{"filter": "datum.panel == 'c40' && datum.kind == 'label'"}], "mark": {"type": "text", "fontSize": 16, "fontWeight": "bold", "color": "black"}, "encoding": {"text": {"field": "pct"}}}
]
},
{
"width": 187, "height": 142,
"encoding": {
"x": {"field": "pe", "type": "quantitative", "scale": {"type": "log", "domain": [1, 10000], "nice": false}, "axis": null},
"y": {"field": "count", "type": "quantitative", "scale": {"domain": [0, 71], "nice": false}, "axis": null}
},
"resolve": {"axis": {"x": "independent", "y": "independent"}},
"layer": [
{"data": {"name": "curves"}, "transform": [{"filter": "datum.panel == 's40' && datum.stain == 'marker'"}], "mark": {"type": "line", "color": "#8f8f8f", "strokeWidth": 3}, "encoding": {"order": {"value": null},
"x": {"field": "pe", "type": "quantitative", "scale": {"type": "log", "domain": [1, 10000], "nice": false}, "axis": {"orient": "bottom", "title": "PE", "values": [1,10,100,1000,10000], "labelExpr": "datum.value == 1 ? '10⁰' : datum.value == 10 ? '10¹' : datum.value == 100 ? '10²' : datum.value == 1000 ? '10³' : '10⁴'", "tickSize": 6}},
"y": {"field": "count", "type": "quantitative", "scale": {"domain": [0, 71], "nice": false}, "axis": {"orient": "left", "title": "Counts", "values": [0,10,20,30,40,50,60,70], "labelExpr": "datum.value == 0 || datum.value == 70 ? datum.label : ''", "labelAngle": -90, "tickSize": 6}}}},
{"data": {"name": "curves"}, "transform": [{"filter": "datum.panel == 's40' && datum.stain == 'isotype'"}], "mark": {"type": "line", "color": "black", "strokeWidth": 1}, "encoding": {"order": {"value": null},
"x": {"field": "pe", "type": "quantitative", "scale": {"type": "log", "domain": [1, 10000], "nice": false}, "axis": {"orient": "bottom", "title": null, "values": [2,3,4,5,6,7,8,9,20,30,40,50,60,70,80,90,200,300,400,500,600,700,800,900,2000,3000,4000,5000,6000,7000,8000,9000], "labels": false, "domain": false, "tickSize": 3}},
"y": {"field": "count", "type": "quantitative", "scale": {"domain": [0, 71], "nice": false}, "axis": {"orient": "left", "title": null, "values": [2,4,6,8,12,14,16,18,22,24,26,28,32,34,36,38,42,44,46,48,52,54,56,58,62,64,66,68], "labels": false, "domain": false, "tickSize": 3}}}},
{"data": {"name": "notes"}, "transform": [{"filter": "datum.panel == 's40' && datum.kind == 'arrow'"}], "mark": {"type": "rule", "color": "black", "strokeWidth": 1.3}, "encoding": {"x2": {"field": "peEnd"}}},
{"data": {"name": "notes"}, "transform": [{"filter": "datum.panel == 's40' && datum.kind == 'head'"}], "mark": {"type": "point", "shape": "triangle-right", "filled": true, "color": "black", "opacity": 1, "size": 60}},
{"data": {"name": "notes"}, "transform": [{"filter": "datum.panel == 's40' && datum.kind == 'label'"}], "mark": {"type": "text", "fontSize": 16, "fontWeight": "bold", "color": "black"}, "encoding": {"text": {"field": "pct"}, "y": {"field": "count", "type": "quantitative", "scale": {"domain": [0, 71], "nice": false}, "axis": {"orient": "right", "title": "CD40", "titleAngle": 0, "titleAlign": "left", "titleBaseline": "middle", "titleFontSize": 20, "titleFontWeight": "bold", "titlePadding": 23, "titleY": 74, "domain": false, "ticks": false, "labels": false}}}}
]
}
],
"config": {
"font": "Liberation Sans",
"view": {"stroke": "black", "strokeWidth": 1.5},
"axis": {"grid": false, "domainColor": "black", "domainWidth": 1.5, "tickColor": "black", "tickWidth": 1.2, "labelColor": "black", "titleColor": "black", "titleFontWeight": "normal", "labelOverlap": false, "labelFlush": false, "labelFont": "Liberation Sans", "titleFont": "Liberation Sans"},
"axisX": {"labelFontSize": 14, "labelPadding": 4, "titleFontSize": 14, "titlePadding": 3},
"axisY": {"labelFontSize": 12, "labelPadding": 7, "titleFontSize": 11, "titlePadding": 5},
"title": {"color": "black", "fontSize": 20, "fontWeight": "bold", "font": "Liberation Sans", "frame": "group", "anchor": "middle", "baseline": "alphabetic"}
}
}
